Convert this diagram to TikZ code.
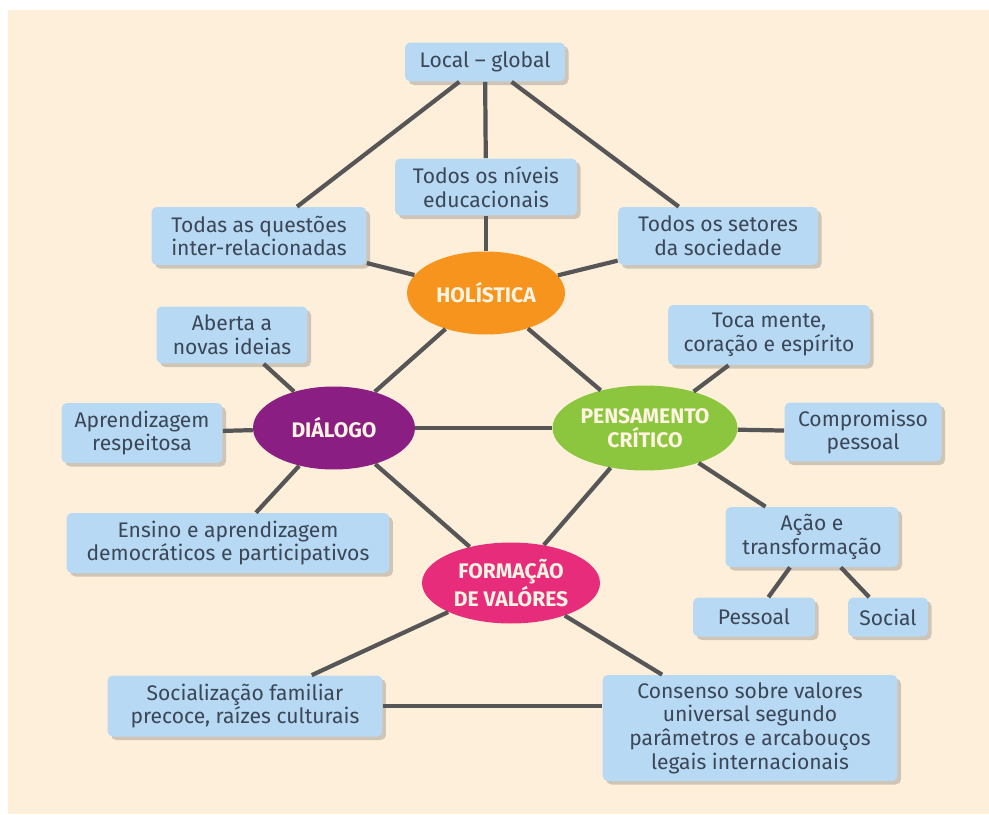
\documentclass[tikz,border=0pt]{standalone}
\usepackage{fontspec}
\setmainfont{Fira Sans}
\usetikzlibrary{shapes.geometric,shadows,positioning}

\definecolor{paper}{HTML}{FDEFDA}
\definecolor{boxblue}{HTML}{B7D9F3}
\definecolor{boxtext}{HTML}{3B4656}
\definecolor{linkgray}{HTML}{565656}
\definecolor{cream}{HTML}{FFF3E2}
\definecolor{holorange}{HTML}{F7941E}
\definecolor{dialpurple}{HTML}{8B1E82}
\definecolor{critgreen}{HTML}{8CC63F}
\definecolor{valpink}{HTML}{E72C7C}

\begin{document}
\begin{tikzpicture}
    [x=0.02cm,y=-0.02cm,
    idea/.style={rectangle,rounded corners=3pt,fill=boxblue,text=boxtext,
    align=center,inner sep=0pt,font=\fontsize{12}{13.5}\selectfont,
    drop shadow={shadow xshift=2pt,shadow yshift=-2pt,opacity=0.3,fill=black!60}},
    theme/.style={ellipse,inner sep=0pt,text=cream,align=center,
    font=\fontsize{12}{13.5}\selectfont\bfseries},
    link/.style={draw=linkgray,line width=2.4pt}]

    % background
    \fill[white] (0,0) rectangle (989,814);
    \fill[paper] (8,10) rectangle (989,814);
    \useasboundingbox (0,0) rectangle (989,814);

    % the four themes
    \node[theme,fill=holorange,minimum width=3.16cm,minimum height=1.66cm] (holistic) at (486,293) {HOLÍSTICA};
    \node[theme,fill=dialpurple,minimum width=3.24cm,minimum height=1.66cm] (dialogue) at (334,428) {DIÁLOGO};
    \node[theme,fill=critgreen,minimum width=3.7cm,minimum height=1.7cm] (critical) at (645,428) {PENSAMENTO\\CRÍTICO};
    \node[theme,fill=valpink,minimum width=3.56cm,minimum height=1.62cm] (values) at (511,583) {FORMAÇÃO\\DE VALÓRES};

    % boxes
    \node[idea,minimum width=3.2cm,minimum height=0.78cm] (local) at (485,62) {Local – global};
    \node[idea,minimum width=3.64cm,minimum height=1.14cm] (levels) at (486,187) {Todos os níveis\\educacionais};
    \node[idea,minimum width=4.3cm,minimum height=1.16cm] (issues) at (259,236) {Todas as questões\\inter-relacionadas};
    \node[idea,minimum width=4.0cm,minimum height=1.16cm] (sectors) at (718,236) {Todos os setores\\da sociedade};
    \node[idea,minimum width=3.02cm,minimum height=1.14cm] (open) at (232,335) {Aberta a\\novas ideias};
    \node[idea,minimum width=4.04cm,minimum height=1.2cm] (touch) at (769,335) {Toca mente,\\coração e espírito};
    \node[idea,minimum width=3.22cm,minimum height=1.2cm] (respect) at (142,433) {Aprendizagem\\respeitosa};
    \node[idea,minimum width=6.46cm,minimum height=1.2cm] (teach) at (228,543) {Ensino e aprendizagem\\democráticos e participativos};
    \node[idea,minimum width=3.14cm,minimum height=1.18cm] (commit) at (863,432) {Compromisso\\pessoal};
    \node[idea,minimum width=3.46cm,minimum height=1.2cm] (action) at (812,537) {Ação e\\transformação};
    \node[idea,minimum width=2.44cm,minimum height=0.78cm] (personal) at (754,617) {Pessoal};
    \node[idea,minimum width=1.6cm,minimum height=0.78cm] (social) at (888,617) {Social};
    \node[idea,minimum width=5.5cm,minimum height=1.22cm] (family) at (245,706) {Socialização familiar\\precoce, raízes culturais};
    \node[idea,minimum width=5.9cm,minimum height=2.12cm] (consensus) at (750,728) {Consenso sobre valores\\universal segundo\\parâmetros e arcabouços\\legais internacionais};

    % links
    \draw[link] (local) -- (issues);
    \draw[link] (local) -- (levels);
    \draw[link] (local) -- (sectors);
    \draw[link] (holistic) -- (issues);
    \draw[link] (holistic) -- (levels);
    \draw[link] (holistic) -- (sectors);
    \draw[link] (holistic) -- (dialogue);
    \draw[link] (holistic) -- (critical);
    \draw[link] (dialogue) -- (open);
    \draw[link] (dialogue) -- (respect);
    \draw[link] (dialogue) -- (teach);
    \draw[link] (dialogue) -- (critical);
    \draw[link] (dialogue) -- (values);
    \draw[link] (critical) -- (touch);
    \draw[link] (critical) -- (commit);
    \draw[link] (critical) -- (action);
    \draw[link] (critical) -- (values);
    \draw[link] (action) -- (personal);
    \draw[link] (action) -- (social);
    \draw[link] (values) -- (family);
    \draw[link] (values) -- (consensus);
    \draw[link] (family.east) -- (family.east -| consensus.west);
\end{tikzpicture}
\end{document}
